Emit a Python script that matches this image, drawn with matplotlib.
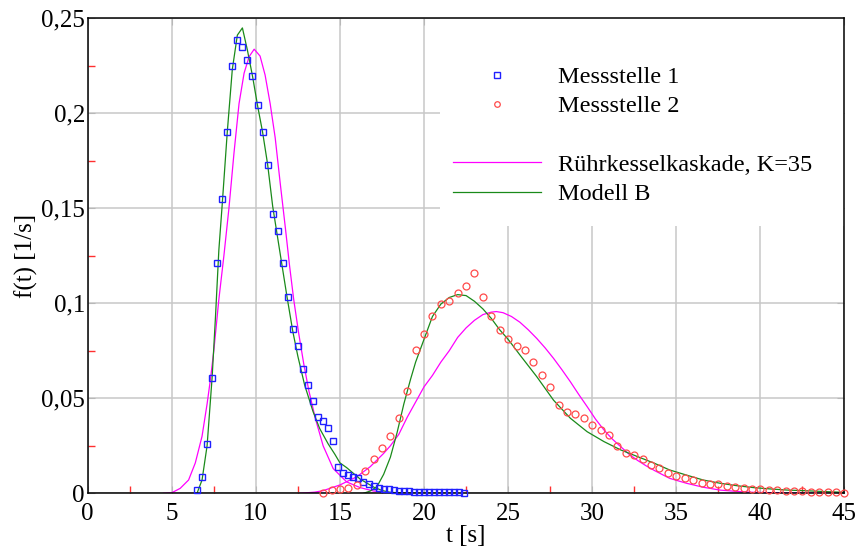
import numpy as np
import matplotlib
matplotlib.use('Agg')
import matplotlib.pyplot as plt
from matplotlib.lines import Line2D
from matplotlib.patches import Rectangle

# Messstelle 1 (measured)
t_m1 = [6.5, 6.8, 7.1, 7.4, 7.7, 8.0, 8.3, 8.6, 8.9, 9.2, 9.5, 9.8, 10.1, 10.4,
        10.7, 11.0, 11.3, 11.6, 11.9, 12.2, 12.5, 12.8, 13.1, 13.4, 13.7, 14.0,
        14.3, 14.6, 14.9, 15.2, 15.5, 15.8, 16.1, 16.4, 16.7, 17.0, 17.3, 17.6,
        17.9, 18.2, 18.5, 18.8, 19.1, 19.4, 19.7, 20.0, 20.3, 20.6, 20.9, 21.2,
        21.5, 21.8, 22.1, 22.4]
f_m1 = [0.0017, 0.0087, 0.0258, 0.0605, 0.121, 0.155, 0.190, 0.2245, 0.2384,
        0.2349, 0.228, 0.2195, 0.204, 0.190, 0.1728, 0.147, 0.138, 0.121, 0.1035,
        0.0863, 0.0777, 0.0656, 0.057, 0.0486, 0.040, 0.038, 0.0345, 0.0277,
        0.014, 0.0105, 0.0094, 0.0087, 0.0079, 0.0061, 0.0051, 0.004, 0.003,
        0.0025, 0.0021, 0.0017, 0.0014, 0.0011, 0.001, 0.0009, 0.0008, 0.0008,
        0.0007, 0.0007, 0.0006, 0.0006, 0.0006, 0.0005, 0.0005, 0.0]

# Messstelle 2 (measured)
t_m2 = [14.0, 14.5, 15.0, 15.5, 16.0, 16.5, 17.0, 17.5, 18.0, 18.5, 19.0, 19.5,
        20.0, 20.5, 21.0, 21.5, 22.0, 22.5, 23.0, 23.5, 24.0, 24.5, 25.0, 25.5,
        26.0, 26.5, 27.0, 27.5, 28.0, 28.5, 29.0, 29.5, 30.0, 30.5, 31.0, 31.5,
        32.0, 32.5, 33.0, 33.5, 34.0, 34.5, 35.0, 35.5, 36.0, 36.5, 37.0, 37.5,
        38.0, 38.5, 39.0, 39.5, 40.0, 40.5, 41.0, 41.5, 42.0, 42.5, 43.0, 43.5,
        44.0, 44.5, 45.0]
f_m2 = [0.0003, 0.0015, 0.0021, 0.0028, 0.0044, 0.0119, 0.0179, 0.0238, 0.0301,
        0.0395, 0.0538, 0.0754, 0.0837, 0.0933, 0.0995, 0.1014, 0.1053, 0.109,
        0.116, 0.103, 0.0933, 0.086, 0.0814, 0.0777, 0.0754, 0.0693, 0.0621,
        0.0561, 0.0465, 0.0429, 0.0416, 0.0395, 0.0358, 0.0335, 0.0305, 0.0251,
        0.0214, 0.0203, 0.0179, 0.0147, 0.0132, 0.0108, 0.0091, 0.0079, 0.007,
        0.0056, 0.0051, 0.0047, 0.0038, 0.0032, 0.0029, 0.0024, 0.0021, 0.0017,
        0.0016, 0.0014, 0.0012, 0.0011, 0.0008, 0.0007, 0.0007, 0.0005, 0.0002]

# Ruehrkesselkaskade K=35, curve for Messstelle 1
t_rk1 = [4.5, 5.0, 5.5, 6.0, 6.4, 6.8, 7.1, 7.3, 7.5, 7.8, 8.1, 8.4, 8.7, 9.0,
         9.3, 9.6, 9.9, 10.25, 10.55, 10.85, 11.15, 11.45, 11.75, 12.0, 12.25,
         12.55, 12.85, 13.15, 13.55, 14.0, 14.6, 15.4, 16.2, 17.0, 18.0, 19.0]
f_rk1 = [0.0, 0.0003, 0.0026, 0.007, 0.016, 0.030, 0.047, 0.060, 0.075, 0.102,
         0.125, 0.150, 0.179, 0.205, 0.221, 0.2297, 0.2336, 0.230, 0.220, 0.205,
         0.187, 0.163, 0.140, 0.120, 0.102, 0.084, 0.068, 0.054, 0.039, 0.025,
         0.013, 0.006, 0.003, 0.0012, 0.0002, 0.0]

# Ruehrkesselkaskade K=35, curve for Messstelle 2
t_rk2 = [12.6, 13.5, 14.0, 15.0, 16.0, 16.8, 17.6, 18.0, 18.5, 19.0, 19.5, 20.0,
         20.5, 21.0, 21.5, 22.0, 22.5, 23.0, 23.5, 24.0, 24.3, 24.7, 25.2, 25.7,
         26.2, 26.7, 27.2, 27.7, 28.2, 28.7, 29.2, 29.7, 30.2, 30.7, 31.2, 31.7,
         32.2, 32.7, 33.2, 33.7, 34.6, 35.6, 36.6, 37.6, 38.6, 39.6, 41.6, 45.0]
f_rk2 = [0.0, 0.0006, 0.0014, 0.0044, 0.0087, 0.014, 0.021, 0.025, 0.031, 0.040,
         0.048, 0.056, 0.062, 0.069, 0.075, 0.082, 0.087, 0.091, 0.094, 0.0953,
         0.0956, 0.095, 0.093, 0.090, 0.086, 0.0815, 0.0765, 0.071, 0.065, 0.0587,
         0.052, 0.0456, 0.039, 0.0333, 0.0285, 0.0245, 0.0205, 0.0173, 0.0145,
         0.012, 0.0079, 0.0053, 0.0032, 0.0017, 0.001, 0.0005, 0.0002, 0.0]

# Modell B, curve for Messstelle 1
t_mb1 = [6.5, 6.8, 7.1, 7.4, 7.6, 7.8, 8.0, 8.3, 8.6, 8.9, 9.2, 9.5, 9.8, 10.1,
         10.4, 10.7, 11.0, 11.25, 11.5, 11.85, 12.2, 12.5, 12.9, 13.4, 13.8,
         14.3, 14.7, 15.0, 15.4, 16.2, 17.0, 17.5, 18.0, 19.0, 22.0]
f_mb1 = [0.0, 0.007, 0.025, 0.061, 0.093, 0.128, 0.152, 0.190, 0.223, 0.241,
         0.2448, 0.233, 0.2195, 0.204, 0.190, 0.173, 0.151, 0.137, 0.123, 0.1035,
         0.085, 0.072, 0.057, 0.043, 0.034, 0.026, 0.0205, 0.016, 0.0135, 0.0075,
         0.0033, 0.0015, 0.0005, 0.0001, 0.0]

# Modell B, curve for Messstelle 2
t_mb2 = [16.4, 16.8, 17.2, 17.6, 18.0, 18.4, 18.8, 19.2, 19.5, 20.0, 20.5, 21.0,
         21.5, 22.0, 22.5, 23.0, 23.5, 24.0, 24.5, 25.0, 25.7, 26.7, 27.7, 28.7,
         29.7, 30.7, 31.7, 32.7, 33.7, 34.6, 35.6, 36.6, 37.6, 38.6, 39.6, 40.6,
         41.6, 42.6, 43.6, 45.0]
f_mb2 = [0.0, 0.0012, 0.0035, 0.010, 0.019, 0.032, 0.047, 0.060, 0.069, 0.081,
         0.093, 0.0995, 0.103, 0.1045, 0.104, 0.101, 0.097, 0.092, 0.086, 0.081,
         0.0728, 0.0614, 0.049, 0.0395, 0.0324, 0.0272, 0.0228, 0.0193, 0.0158,
         0.0123, 0.0096, 0.007, 0.0053, 0.004, 0.003, 0.0023, 0.0017, 0.0014,
         0.001, 0.0005]

xticks = [0, 5, 10, 15, 20, 25, 30, 35, 40, 45]
yticks = [0, 0.05, 0.1, 0.15, 0.2, 0.25]
ytick_labels = ['0', '0,05', '0,1', '0,15', '0,2', '0,25']

plt.rcParams['font.family'] = ['Liberation Serif', 'DejaVu Serif']

fig = plt.figure(figsize=(8.58, 5.51), dpi=100)
ax = fig.add_axes([0.1022, 0.1047, 0.882, 0.8626])

mag = '#ff00ff'
grn = '#1a8a1a'
blu = '#2020ff'
red = '#ff4a4a'

ax.plot(t_rk1, f_rk1, color=mag, lw=0.9, zorder=2)
ax.plot(t_rk2, f_rk2, color=mag, lw=0.9, zorder=2)
ax.plot(t_mb1, f_mb1, color=grn, lw=0.9, zorder=2)
ax.plot(t_mb2, f_mb2, color=grn, lw=0.9, zorder=2)
ax.plot(t_m1, f_m1, 's', mfc='none', mec=blu, ms=5, mew=1.0, zorder=3, clip_on=False)
ax.plot(t_m2, f_m2, 'o', mfc='none', mec=red, ms=5, mew=0.9, zorder=3, clip_on=False)

ax.set_xlim(0, 45)
ax.set_ylim(0, 0.25)
ax.set_xticks(xticks)
ax.set_yticks(yticks)
ax.set_yticklabels(ytick_labels)
ax.set_xticks(np.arange(2.5, 45, 5), minor=True)
ax.set_yticks(np.arange(0.025, 0.25, 0.05), minor=True)
ax.set_axisbelow(True)
ax.grid(True, which='major', color='#c8c8c8', lw=1.1)
ax.tick_params(which='major', direction='in', length=5, color='#b8b8b8',
               top=True, right=True, labelsize=18, pad=2)
ax.tick_params(axis='x', which='major', pad=7)
ax.tick_params(which='minor', direction='in', length=5, color='#ff3030', width=1)
for s in ax.spines.values():
    s.set_linewidth(1.1)
    s.set_color('black')

ax.set_xlabel('t [s]', fontsize=18, labelpad=0)
ax.set_ylabel('f(t) [1/s]', fontsize=18, labelpad=2)

# white area behind the legend
ax.add_patch(Rectangle((0.4656, 0.5624), 0.5344, 0.4376, transform=ax.transAxes,
                       facecolor='white', edgecolor='none', zorder=1))

handles = [
    Line2D([], [], ls='none', marker='s', mfc='none', mec=blu, ms=4, mew=1.0),
    Line2D([], [], ls='none', marker='o', mfc='none', mec=red, ms=4, mew=0.9),
    Line2D([], [], ls='none'),
    Line2D([], [], color=mag, lw=0.9),
    Line2D([], [], color=grn, lw=0.9),
]
labels = ['Messstelle 1', 'Messstelle 2', '', 'Rührkesselkaskade, K=35', 'Modell B']
fig.legend(handles, labels, loc='upper left', bbox_to_anchor=(453 / 858, 1 - 66 / 551),
           frameon=False, fontsize=17.5, handlelength=3.6, handletextpad=0.7,
           borderpad=0, borderaxespad=0, labelspacing=0.3)

plt.savefig('out.png', dpi=100)
